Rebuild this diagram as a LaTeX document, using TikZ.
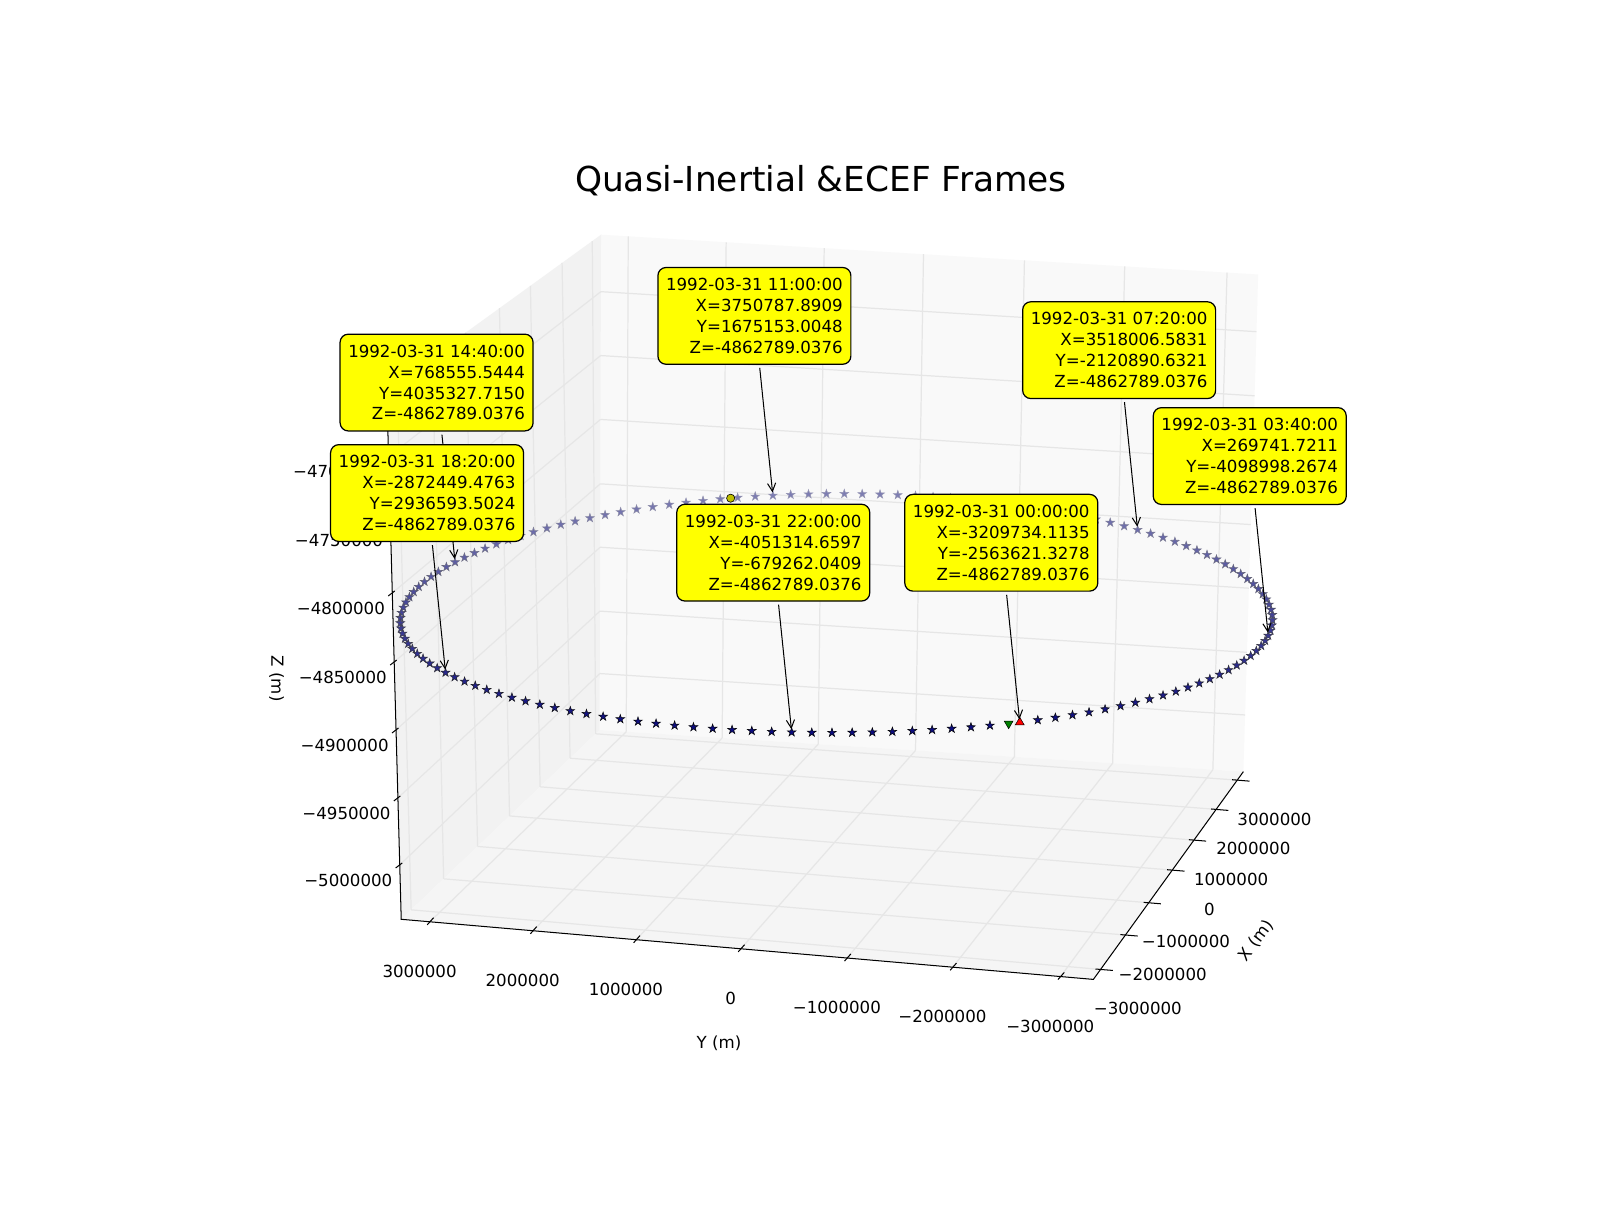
\documentclass[tikz,border=0pt]{standalone}
\usepackage{fontspec}
\setmainfont{DejaVu Sans}
\usetikzlibrary{calc,shapes.geometric,arrows.meta}

\definecolor{backpane}{RGB}{249,249,249}
\definecolor{sidepane}{RGB}{242,242,242}
\definecolor{floorpane}{RGB}{245,245,245}
\definecolor{gridgray}{RGB}{230,230,230}
\definecolor{nearstar}{RGB}{10,10,125}
\definecolor{farstar}{RGB}{125,125,178}
\definecolor{faredge}{RGB}{150,150,180}
\definecolor{tagyellow}{RGB}{255,255,0}
\definecolor{markred}{RGB}{255,0,0}
\definecolor{markgreen}{RGB}{0,128,0}
\definecolor{markolive}{RGB}{191,191,0}

% ground track point #1, #2 minutes after 1992-03-31 00:00:00
\newcommand{\trackpoint}[2]{%
  \pgfmathsetmacro\ang{218.6+0.250684*#2}%
  \pgfmathsetmacro\dep{-cos(\ang-14.5)}%
  \pgfmathsetmacro\trkx{819.9+(111.1*cos(\ang)-411.9*sin(\ang))*(1+0.06*\dep)}%
  \pgfmathsetmacro\trky{601-113.3*cos(\ang)-29.4*sin(\ang)}%
  \coordinate (#1) at (\trkx,\trky);}

\begin{document}
\begin{tikzpicture}[x=1pt,y=-1pt]
\tikzstyle{every node}+=[inner sep=0pt]
\tikzstyle{gridline}=[gridgray,line width=1.2pt]
\tikzstyle{axisline}=[black,line width=1pt]
\tikzstyle{ticklabel}=[font=\fontsize{16.3}{20}\selectfont]
\tikzstyle{orbitstar}=[star,star points=5,star point ratio=2.6,minimum size=9pt,line width=0.5pt]
\tikzstyle{trimark}=[regular polygon,regular polygon sides=3,minimum size=10pt,draw=black,line width=0.5pt]
\tikzstyle{tagbox}=[draw=black,fill=tagyellow,rounded corners=8pt,line width=1.2pt,inner xsep=8pt,inner ysep=10.5pt,align=right,font=\fontsize{16.3}{20.5}\selectfont]
\tikzstyle{tagarrow}=[-{Straight Barb[length=8pt,width=8pt]},line width=1pt,shorten <=3pt,shorten >=3pt]

\useasboundingbox (0,0) rectangle (1568,1186);
\fill[white] (0,0) rectangle (1568,1186);

% corners of the axes box
\coordinate (A) at (589,230);
\coordinate (B) at (1233,269);
\coordinate (H) at (1218.5,756.2);
\coordinate (D) at (587.6,715.4);
\coordinate (E) at (379,382);
\coordinate (F) at (393.2,900.9);
\coordinate (G) at (1071.5,959.8);

% panes
\fill[backpane] (A) -- (B) -- (H) -- (D) -- cycle;
\fill[sidepane] (A) -- (E) -- (F) -- (D) -- cycle;
\fill[floorpane] (D) -- (H) -- (G) -- (F) -- cycle;

% grid
\foreach \u in {0.0414,0.1904,0.3396,0.4907,0.6443,0.7969,0.9526} {
  \draw[gridline] ($(D)!\u!(H)$) -- ($(A)!\u!(B)$);
  \draw[gridline] ($(F)!\u!(G)$) -- ($(D)!\u!(H)$);
}
\foreach \v/\vl in {0.048/0.05,0.2137/0.2137,0.3688/0.385,0.526/0.546,0.6705/0.70,0.8183/0.851,0.9592/0.98} {
  \draw[gridline] ($(F)!\vl!(D)$) -- ($(E)!\v!(A)$);
  \draw[gridline] ($(G)!\v!(H)$) -- ($(F)!\vl!(D)$);
}
\foreach \w/\wb in {0.1027/0.114,0.2293/0.240,0.3576/0.369,0.4859/0.497,0.6164/0.627,0.745/0.756,0.874/0.885} {
  \draw[gridline] ($(F)!\w!(E)$) -- ($(D)!\wb!(A)$);
  \draw[gridline] ($(D)!\wb!(A)$) -- ($(H)!\wb!(B)$);
}

% axes, ticks and tick labels
\draw[axisline] (E) -- (F) -- (G) -- (H);
\foreach \w/\lab [count=\k] in {0.1027/5000000,0.2293/4950000,0.3576/4900000,0.4859/4850000,0.6164/4800000,0.745/4750000,0.874/4700000} {
  \draw[axisline] ($(F)!\w!(E)+(-4,3)$) -- ++(6.4,-4.9);
  \node[ticklabel] (zt\k) at ($(F)!\w!(E)+(-50.4,15)$) {−\lab};
}
\foreach \u/\lab [count=\k] in {0.0414/3000000,0.1904/2000000,0.3396/1000000,0.4907/0,0.6443/−1000000,0.7969/−2000000,0.9526/−3000000} {
  \draw[axisline] ($(F)!\u!(G)+(-2.6,3)$) -- ++(6.2,-7);
  \node[ticklabel] (yt\k) at ($(F)!\u!(G)+(-10.1,48.7)$) {\lab};
}
\foreach \v/\lab [count=\k] in {0.048/−3000000,0.2137/−2000000,0.3688/−1000000,0.526/0,0.6705/1000000,0.8183/2000000,0.9592/3000000} {
  \draw[axisline] ($(G)!\v!(H)+(-5,-0.4)$) -- ++(17,1.4);
  \node[ticklabel] (xt\k) at ($(G)!\v!(H)+(36.5,38.3)$) {\lab};
}
\node[ticklabel,rotate=-90] (zname) at (271,665) {Z (m)};
\node[ticklabel] (yname) at (704.6,1022.5) {Y (m)};
\node[ticklabel,rotate=53] (xname) at (1231,922) {X (m)};

% ground track, every 10 minutes
\foreach \i in {1,...,142} {
  \pgfmathsetmacro\ang{218.6+2.50684*\i}
  \pgfmathsetmacro\dep{-cos(\ang-14.5)}
  \pgfmathsetmacro\trkx{819.9+(111.1*cos(\ang)-411.9*sin(\ang))*(1+0.06*\dep)}
  \pgfmathsetmacro\trky{601-113.3*cos(\ang)-29.4*sin(\ang)}
  \pgfmathtruncatemacro\nearpct{50*(\dep+1)}
  \node[orbitstar,fill=nearstar!\nearpct!farstar,draw=black!\nearpct!faredge] (s\i) at (\trkx,\trky) {};
}
\trackpoint{startpt}{0}
\trackpoint{endpt}{1430}
\trackpoint{noonpt}{684}
\node[trimark,fill=markgreen,shape border rotate=180] (last) at (endpt) {};
\node[trimark,fill=markred] (first) at (startpt) {};
\node[circle,minimum size=8pt,draw=black,fill=markolive,line width=0.6pt] (noon) at (noonpt) {};

% annotations
\trackpoint{p0000}{0}
\trackpoint{p0340}{220}
\trackpoint{p0720}{440}
\trackpoint{p1100}{660}
\trackpoint{p1440}{880}
\trackpoint{p1820}{1100}
\trackpoint{p2200}{1320}
\node[tagbox] (t0000) at ($(p0000)+(-18.1,-176)$) {1992-03-31 00:00:00\\X=-3209734.1135\\Y=-2563621.3278\\Z=-4862789.0376};
\draw[tagarrow] (t0000) -- (p0000);
\node[tagbox] (t0340) at ($(p0340)+(-18.1,-176)$) {1992-03-31 03:40:00\\X=269741.7211\\Y=-4098998.2674\\Z=-4862789.0376};
\draw[tagarrow] (t0340) -- (p0340);
\node[tagbox] (t0720) at ($(p0720)+(-18.1,-176)$) {1992-03-31 07:20:00\\X=3518006.5831\\Y=-2120890.6321\\Z=-4862789.0376};
\draw[tagarrow] (t0720) -- (p0720);
\node[tagbox] (t1100) at ($(p1100)+(-18.1,-176)$) {1992-03-31 11:00:00\\X=3750787.8909\\Y=1675153.0048\\Z=-4862789.0376};
\draw[tagarrow] (t1100) -- (p1100);
\node[tagbox] (t1440) at ($(p1440)+(-18.1,-176)$) {1992-03-31 14:40:00\\X=768555.5444\\Y=4035327.7150\\Z=-4862789.0376};
\draw[tagarrow] (t1440) -- (p1440);
\node[tagbox] (t1820) at ($(p1820)+(-18.1,-176)$) {1992-03-31 18:20:00\\X=-2872449.4763\\Y=2936593.5024\\Z=-4862789.0376};
\draw[tagarrow] (t1820) -- (p1820);
\node[tagbox] (t2200) at ($(p2200)+(-18.1,-176)$) {1992-03-31 22:00:00\\X=-4051314.6597\\Y=-679262.0409\\Z=-4862789.0376};
\draw[tagarrow] (t2200) -- (p2200);

\node[font=\fontsize{33.7}{40}\selectfont] (title) at (804.5,177) {Quasi-Inertial \&ECEF Frames};
\end{tikzpicture}
\end{document}
